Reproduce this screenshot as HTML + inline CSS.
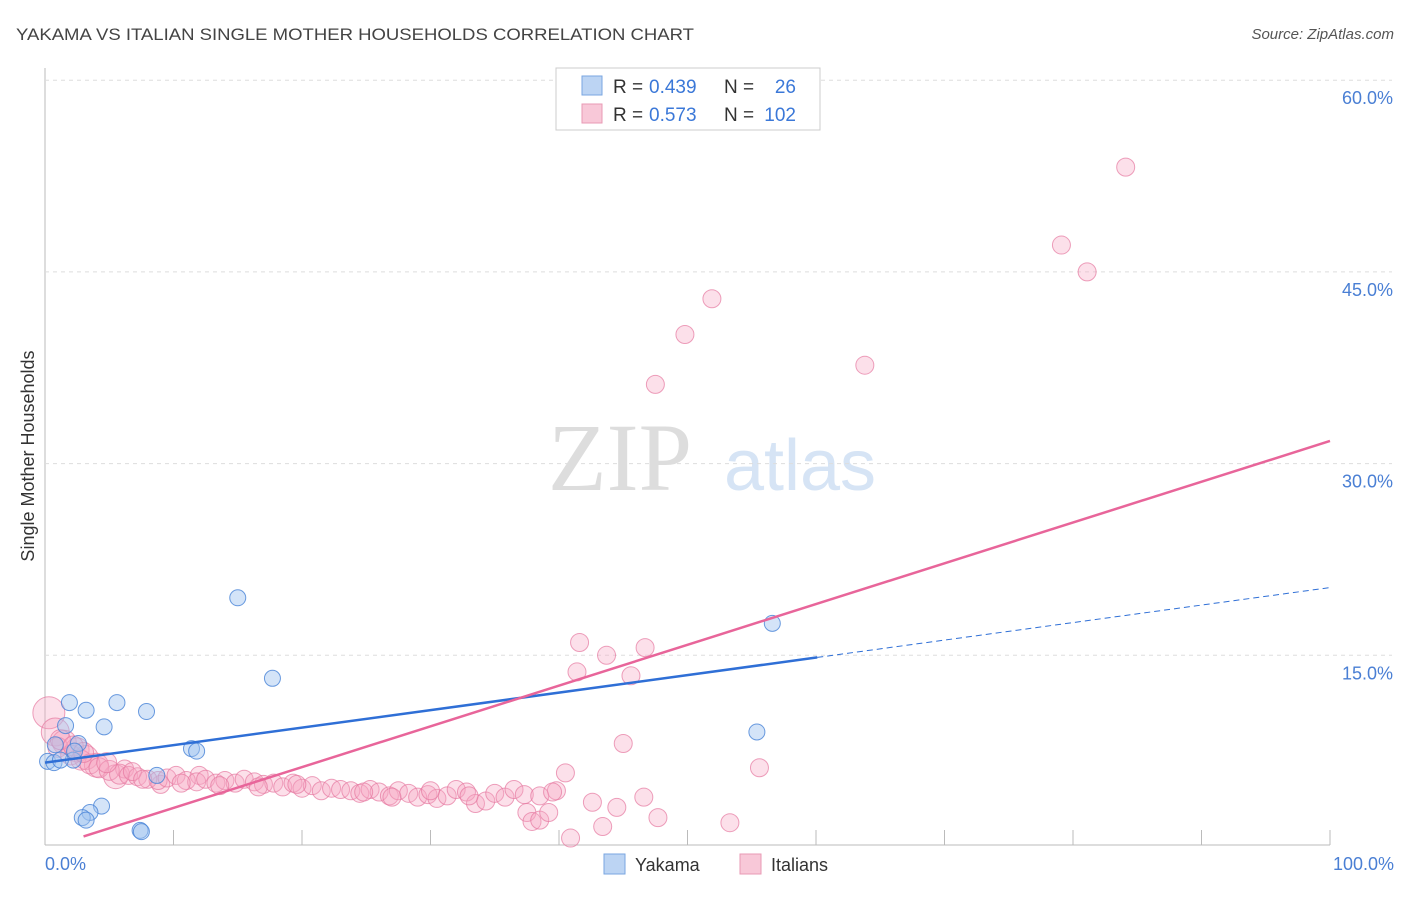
<!DOCTYPE html>
<html><head><meta charset="utf-8"><style>
body{margin:0;background:#fff;font-family:"Liberation Sans",sans-serif}
#c{position:relative;width:1406px;height:892px}
</style></head><body><div id="c">
<svg id="s" width="1406" height="892" xmlns="http://www.w3.org/2000/svg">
<text x="16" y="40" font-size="17" fill="#444" textLength="678" lengthAdjust="spacingAndGlyphs">YAKAMA VS ITALIAN SINGLE MOTHER HOUSEHOLDS CORRELATION CHART</text>
<text x="1394" y="39" font-size="15" fill="#555" font-style="italic" text-anchor="end">Source: ZipAtlas.com</text>
<text x="620" y="490" font-size="96" fill="#ddd" font-family="Liberation Serif,serif" text-anchor="middle">ZIP</text>
<text x="800" y="490" font-size="72" fill="#d6e4f5" text-anchor="middle">atlas</text>
<text transform="translate(34,456) rotate(-90)" font-size="18" fill="#333" text-anchor="middle">Single Mother Households</text>
<g id="grid"></g><g id="pts"></g><g id="lines"></g>
<text x="45" y="870" font-size="18" fill="#4a7fd4">0.0%</text>
<text x="1394" y="870" font-size="18" fill="#4a7fd4" text-anchor="end">100.0%</text>
<g>
<rect x="556" y="68" width="264" height="62" fill="#fff" stroke="#ccc"/>
<rect x="582" y="76" width="20" height="19" fill="#bcd4f3" stroke="#7aa6e0"/>
<rect x="582" y="104" width="20" height="19" fill="#f8c8d8" stroke="#e89ab4"/>
<text x="613" y="93" font-size="19" fill="#333">R =</text><text x="649" y="93" font-size="19" fill="#3b78d8">0.439</text>
<text x="724" y="93" font-size="19" fill="#333">N =</text><text x="796" y="93" font-size="19" fill="#3b78d8" text-anchor="end">26</text>
<text x="613" y="121" font-size="19" fill="#333">R =</text><text x="649" y="121" font-size="19" fill="#3b78d8">0.573</text>
<text x="724" y="121" font-size="19" fill="#333">N =</text><text x="796" y="121" font-size="19" fill="#3b78d8" text-anchor="end">102</text>
</g>
<g>
<rect x="604" y="854" width="21" height="20" fill="#bcd4f3" stroke="#7aa6e0"/>
<text x="635" y="871" font-size="18" fill="#333">Yakama</text>
<rect x="740" y="854" width="21" height="20" fill="#f8c8d8" stroke="#e89ab4"/>
<text x="771" y="871" font-size="18" fill="#333">Italians</text>
</g>
</svg>
<script>
const yTicks=[15,30,45,60];
const yTickLabels=["15.0%","30.0%","45.0%","60.0%"];
const blueX=[15.0,56.6,17.7,1.9,5.6,3.2,7.9,4.6,1.6,55.4,11.4,11.8,0.8,2.6,0.2,0.7,2.2,8.7,4.4,3.5,2.9,3.2,7.4,7.5,2.3,1.2];
const blueY=[19.5,17.5,13.2,11.3,11.3,10.7,10.6,9.4,9.5,9.0,7.7,7.5,8.0,8.1,6.7,6.6,6.8,5.6,3.2,2.7,2.3,2.1,1.3,1.2,7.5,6.8];
const pinkX=[84.1,79.1,81.1,51.9,49.8,47.5,63.8,41.6,43.7,46.7,41.4,45.6,45.0,40.5,55.6,42.6,44.5,46.6,47.7,43.4,40.9,53.3,37.5,37.9,38.5,39.2,39.8,
0.3,0.8,1.5,2.5,3.2,4,5.5,6.2,9,12,
1,2,2.8,3.5,4.2,5,5.8,6.5,7.2,8,8.8,9.5,10.2,11,11.8,12.5,13.3,14,14.8,15.5,16.3,17,17.8,18.5,19.3,20,20.8,21.5,22.3,23,23.8,24.5,25.3,26,26.8,27.5,28.3,29,29.8,30.5,31.3,32,32.8,33.5,34.3,35,35.8,36.5,37.3,38.5,39.5,
1.2,2.2,3.0,4.8,6.8,7.6,10.6,13.6,16.6,19.6,24.8,27,30,33];
const pinkY=[53.2,47.1,45.0,42.9,40.1,36.2,37.7,16.0,15.0,15.6,13.7,13.4,8.1,5.8,6.2,3.5,3.1,3.9,2.3,1.6,0.7,1.9,2.7,2.0,2.1,2.7,4.4,
10.5,9.0,8.2,7.6,7.0,6.4,5.5,6.1,4.9,5.6,
7.8,7.2,6.8,6.5,6.2,6.0,5.7,5.6,5.5,5.3,5.2,5.4,5.6,5.2,5.1,5.3,5.0,5.2,5.0,5.3,5.1,4.9,5.0,4.7,5.0,4.6,4.8,4.4,4.6,4.5,4.4,4.2,4.5,4.3,4.0,4.4,4.2,3.9,4.1,3.8,4.0,4.5,4.3,3.4,3.6,4.2,3.9,4.5,4.1,4.0,4.3,
8.4,7.9,7.4,6.6,5.9,5.3,5.0,4.8,4.7,4.9,4.3,3.9,4.4,4.0];
const pinkR=pinkX.map((x,i)=>i==27?16:i==28?14:(i>=29&&i<=33?12:(x<6&&i>36?10:9)));
const blueLine=[6.6,0.137];const pinkLine=[-0.13,0.319];
const NS="http://www.w3.org/2000/svg";
const X=v=>45+v*12.85, Y=v=>847-v*12.78;
function mk(t,a,p){const e=document.createElementNS(NS,t);for(const k in a)e.setAttribute(k,a[k]);p.appendChild(e);return e;}
const g=document.getElementById('grid');
mk('line',{x1:45,y1:68,x2:45,y2:845,stroke:'#bbb'},g);
mk('line',{x1:45,y1:845,x2:1330,y2:845,stroke:'#bbb'},g);
for(let i=0;i<=10;i++){const t=mk('line',{x1:X(i*10),y1:830,x2:X(i*10),y2:845,stroke:'#bbb'},g);

}
yTicks.forEach((v,i)=>{const l=mk('line',{x1:45,y1:Y(v),x2:1392,y2:Y(v),stroke:'#ddd','stroke-dasharray':'4,4'},g);


const t=mk('text',{x:1393,y:Y(v)+24,'font-size':18,fill:'#4a7fd4','text-anchor':'end'},g);t.textContent=yTickLabels[i];

});
const p=document.getElementById('pts');
pinkX.forEach((x,i)=>{const c=mk('circle',{cx:X(x),cy:Y(pinkY[i]),r:pinkR[i],fill:'rgba(245,165,195,0.35)',stroke:'rgba(230,120,160,0.7)','stroke-width':1},p);

});
blueX.forEach((x,i)=>{const c=mk('circle',{cx:X(x),cy:Y(blueY[i]),r:8,fill:'rgba(160,196,240,0.45)',stroke:'rgba(70,130,215,0.8)','stroke-width':1},p);

});
const L=document.getElementById('lines');
let a=mk('line',{x1:X(0),y1:Y(blueLine[0]),x2:X(60.1),y2:Y(blueLine[0]+blueLine[1]*60.1),stroke:'#2f6fd6','stroke-width':2.5},L);


a=mk('line',{x1:X(60.1),y1:Y(blueLine[0]+blueLine[1]*60.1),x2:X(100),y2:Y(blueLine[0]+blueLine[1]*100),stroke:'#2f6fd6','stroke-width':1,'stroke-dasharray':'6,4'},L);


a=mk('line',{x1:X(3),y1:Y(pinkLine[0]+pinkLine[1]*3),x2:X(100),y2:Y(pinkLine[0]+pinkLine[1]*100),stroke:'#e8659a','stroke-width':2.5},L);


</script></div></body></html>
